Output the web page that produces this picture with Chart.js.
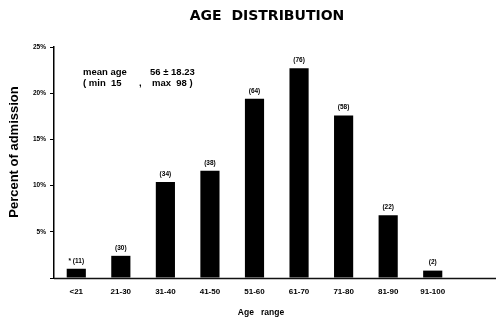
<!DOCTYPE html>
<html>
<head>
<meta charset="utf-8">
<script src="https://cdn.jsdelivr.net/npm/chart.js@4.4.1/dist/chart.umd.min.js"></script>
<style>
html,body{margin:0;padding:0;background:#fff;}
#wrap{width:498px;height:322px;position:relative;}
</style>
</head>
<body>
<div id="wrap"><canvas id="c" width="498" height="322"></canvas></div>
<script>
const categories = ['<21','21-30','31-40','41-50','51-60','61-70','71-80','81-90','91-100'];
const percentValues = [1.0, 2.4, 10.4, 11.6, 19.4, 22.7, 17.6, 6.8, 0.8];
const countLabels = ['* (11)','(30)','(34)','(38)','(64)','(76)','(58)','(22)','(2)'];
const yTicks = [0, 5, 10, 15, 20, 25];
const chartTitle = 'AGE  DISTRIBUTION';
const yTitle = 'Percent of admission';
const xTitle = 'Age   range';
const noteLines = [['mean age', '56 \u00B1 18.23'], ['( min  15', ',', 'max  98 )']];

const overlay = {
  id: 'overlay',
  afterDraw(chart) {
    const ctx = chart.ctx;
    const ca = chart.chartArea;
    ctx.save();
    // baseline
    ctx.strokeStyle = '#111';
    ctx.lineWidth = 1.3;
    ctx.beginPath();
    ctx.moveTo(ca.left, ca.bottom + 0.5);
    ctx.lineTo(496, ca.bottom + 0.5);
    ctx.stroke();
    ctx.fillStyle = '#000';
    // title
    ctx.font = 'bold 14px "DejaVu Sans"';
    ctx.textAlign = 'center';
    ctx.textBaseline = 'middle';
    ctx.fillText(chartTitle, 267, 16);
    // axis titles
    ctx.font = 'bold 8.5px "Liberation Sans"';
    ctx.fillText(xTitle, 261, 313);
    ctx.save();
    ctx.translate(14, 152);
    ctx.rotate(-Math.PI / 2);
    ctx.font = 'bold 13px "Liberation Sans"';
    ctx.fillText(yTitle, 0, 0);
    ctx.restore();
    // bar count labels
    ctx.font = 'bold 6.5px "Liberation Sans"';
    const meta = chart.getDatasetMeta(0);
    meta.data.forEach((bar, i) => {
      ctx.fillText(countLabels[i], bar.x, bar.y - 8);
    });
    // notes
    ctx.font = 'bold 9.5px "Liberation Sans"';
    ctx.textAlign = 'left';
    ctx.fillText(noteLines[0][0], 83, 72);
    ctx.fillText(noteLines[0][1], 150, 72);
    ctx.fillText(noteLines[1][0], 83, 83.5);
    ctx.fillText(noteLines[1][1], 139, 83.5);
    ctx.fillText(noteLines[1][2], 152, 83.5);
    ctx.restore();
  }
};

new Chart(document.getElementById('c'), {
  type: 'bar',
  data: {
    labels: categories,
    datasets: [{
      data: percentValues,
      backgroundColor: '#000',
      borderWidth: 0,
      barPercentage: 0.43,
      categoryPercentage: 1.0
    }]
  },
  options: {
    responsive: false,
    animation: false,
    devicePixelRatio: 1,
    layout: { padding: { left: 0, right: 43, top: 47, bottom: 0 } },
    plugins: { legend: { display: false }, tooltip: { enabled: false }, title: { display: false } },
    scales: {
      x: {
        grid: { display: false, drawTicks: false },
        border: { display: false },
        ticks: { color: '#000', font: { family: 'Liberation Sans', size: 8, weight: 'bold' }, padding: 9, maxRotation: 0, autoSkip: false },
        afterFit(scale) { scale.height = 44; }
      },
      y: {
        min: 0, max: 25,
        afterBuildTicks(scale) { scale.ticks = yTicks.map(v => ({ value: v })); },
        grid: { display: true, drawOnChartArea: false, drawTicks: true, tickLength: 4, color: '#000', lineWidth: 1 },
        border: { display: true, color: '#000', width: 1.5 },
        ticks: { color: '#000', font: { family: 'Liberation Sans', size: 6.5, weight: 'bold' }, padding: 4, callback: v => v === 0 ? '' : v + '%' },
        afterFit(scale) { scale.width = 54; }
      }
    }
  },
  plugins: [overlay]
});
</script>
</body>
</html>
